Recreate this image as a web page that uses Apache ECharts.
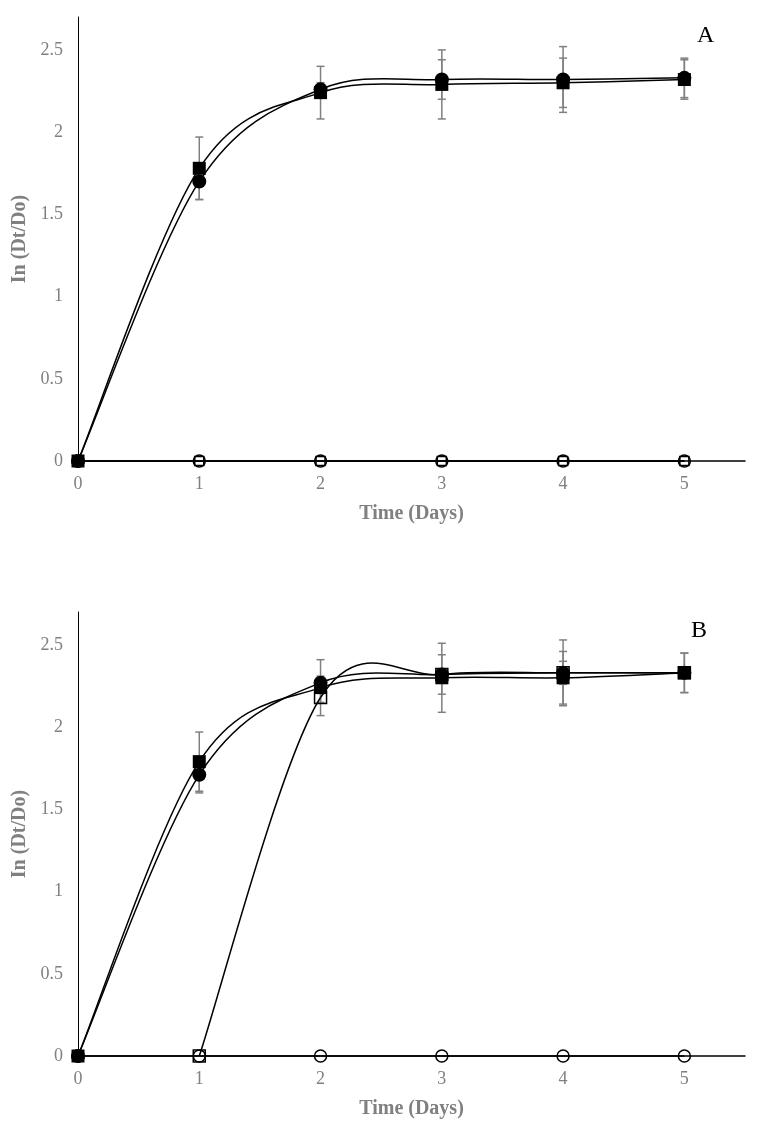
<!DOCTYPE html>
<html>
<head>
<meta charset="utf-8">
<script src="https://cdn.jsdelivr.net/npm/echarts@6/dist/echarts.min.js"></script>
<style>
html,body{margin:0;padding:0;background:#fff;}
#chart{width:765px;height:1124px;}
</style>
</head>
<body>
<div id="chart"></div>
<script>
// ---- data ----
var days = [0, 1, 2, 3, 4, 5];
var xTickLabels = ['0', '1', '2', '3', '4', '5'];
var yTickLabels = ['0', '0.5', '1', '1.5', '2', '2.5'];

// Panel A
var A_filledSquare    = [0, 1.78, 2.24, 2.29, 2.30, 2.32];
var A_filledSquareErr = [0, 0.19, 0.16, 0.21, 0.15, 0.12];
var A_filledCircle    = [0, 1.70, 2.26, 2.32, 2.32, 2.33];
var A_filledCircleErr = [0, 0.11, 0.04, 0.12, 0.20, 0.12];
var A_openSquare      = [0, 0, 0, 0, 0, 0];
var A_openCircle      = [0, 0, 0, 0, 0, 0];

// Panel B
var B_filledSquare    = [0, 1.79, 2.24, 2.30, 2.30, 2.33];
var B_filledSquareErr = [0, 0.18, 0.17, 0.21, 0.16, 0.12];
var B_filledCircle    = [0, 1.71, 2.27, 2.32, 2.33, 2.33];
var B_filledCircleErr = [0, 0.11, 0.04, 0.12, 0.20, 0.12];
var B_openSquare      = [null, 0, 2.18, 2.32, 2.33, 2.33];
var B_openSquareErr   = [0, 0, 0.03, 0.02, 0.07, 0.02];
var B_openCircle      = [0, 0, 0, 0, 0, 0];

var panelLabels = ['A', 'B'];

// ---- build ----
var GRAY = '#808080';
var FONT = '"Liberation Serif","Times New Roman",serif';

function pairs(vals) {
  var out = [];
  days.forEach(function (d, i) { if (vals[i] != null) out.push([d, vals[i]]); });
  return out;
}
function errPairs(vals, errs) {
  var out = [];
  days.forEach(function (d, i) { if (vals[i] != null && errs[i] > 0) out.push([d, vals[i] - errs[i], vals[i] + errs[i]]); });
  return out;
}

function errSeries(gi, vals, errs) {
  return {
    type: 'custom', xAxisIndex: gi, yAxisIndex: gi, z: 1, silent: true,
    data: errPairs(vals, errs),
    renderItem: function (params, api) {
      var x = api.value(0), lo = api.value(1), hi = api.value(2);
      var p1 = api.coord([x, lo]), p2 = api.coord([x, hi]);
      var w = 4;
      var st = { stroke: GRAY, lineWidth: 1.5 };
      return { type: 'group', children: [
        { type: 'line', shape: { x1: p1[0], y1: p1[1], x2: p2[0], y2: p2[1] }, style: st },
        { type: 'line', shape: { x1: p1[0] - w, y1: p1[1], x2: p1[0] + w, y2: p1[1] }, style: st },
        { type: 'line', shape: { x1: p2[0] - w, y1: p2[1], x2: p2[0] + w, y2: p2[1] }, style: st }
      ]};
    }
  };
}

// Excel-like smoothed line (Catmull-Rom bezier segments) through the data points
function splineSeries(gi, vals, z) {
  var pts = pairs(vals);
  return {
    type: 'custom', xAxisIndex: gi, yAxisIndex: gi, z: z, silent: true,
    data: pts,
    renderItem: function (params, api) {
      var i = params.dataIndex;
      if (i >= pts.length - 1) return null;
      var c = pts.map(function (p) { return api.coord(p); });
      var p0 = c[Math.max(i - 1, 0)], p1 = c[i], p2 = c[i + 1], p3 = c[Math.min(i + 2, c.length - 1)];
      return {
        type: 'bezierCurve',
        shape: {
          x1: p1[0], y1: p1[1], x2: p2[0], y2: p2[1],
          cpx1: p1[0] + (p2[0] - p0[0]) / 6, cpy1: p1[1] + (p2[1] - p0[1]) / 6,
          cpx2: p2[0] - (p3[0] - p1[0]) / 6, cpy2: p2[1] - (p3[1] - p1[1]) / 6
        },
        style: { stroke: '#000', lineWidth: 1.5, fill: null }
      };
    }
  };
}

function markerSeries(gi, vals, symbol, size, filled, z) {
  return {
    type: 'scatter', xAxisIndex: gi, yAxisIndex: gi, z: z, silent: true,
    data: pairs(vals), symbol: symbol, symbolSize: size,
    itemStyle: filled ? { color: '#000', borderWidth: 0, opacity: 1 }
                      : { color: 'rgba(255,255,255,0)', borderColor: '#000', borderWidth: 1.5, opacity: 1 },
    emphasis: { disabled: true }
  };
}

var grids = [
  { left: 78, right: 20, top: 17, height: 444 },
  { left: 78, right: 20, top: 612, height: 444 }
];

function xAxis(gi) {
  return {
    type: 'value', gridIndex: gi, min: 0, max: 5.5, interval: 1,
    name: 'Time (Days)', nameLocation: 'middle', nameGap: 43,
    nameTextStyle: { color: GRAY, fontFamily: FONT, fontWeight: 'bold', fontSize: 20 },
    axisLine: { show: true, onZero: false, lineStyle: { color: '#000', width: 1.5 } },
    axisTick: { show: false }, splitLine: { show: false },
    axisLabel: { color: GRAY, fontFamily: FONT, fontSize: 18, margin: 14,
      formatter: function (v) { var i = days.indexOf(v); return i >= 0 ? xTickLabels[i] : ''; } }
  };
}
function yAxis(gi) {
  return {
    type: 'value', gridIndex: gi, min: 0, max: 2.7, interval: 0.5,
    name: 'In (Dt/Do)', nameLocation: 'middle', nameGap: 36,
    nameTextStyle: { color: GRAY, fontFamily: FONT, fontWeight: 'bold', fontSize: 20 },
    axisLine: { show: true, lineStyle: { color: '#000', width: 1 } },
    axisTick: { show: false }, splitLine: { show: false },
    axisLabel: { color: GRAY, fontFamily: FONT, fontSize: 18, margin: 15,
      formatter: function (v) { var i = Math.round(v / 0.5); return (Math.abs(v - i * 0.5) < 1e-6 && i < yTickLabels.length) ? yTickLabels[i] : ''; } }
  };
}

var series = [
  // Panel A
  errSeries(0, A_filledSquare, A_filledSquareErr),
  errSeries(0, A_filledCircle, A_filledCircleErr),
  splineSeries(0, A_openCircle, 2),
  splineSeries(0, A_openSquare, 2),
  splineSeries(0, A_filledCircle, 2),
  splineSeries(0, A_filledSquare, 2),
  markerSeries(0, A_openCircle, 'circle', 12, false, 3),
  markerSeries(0, A_openSquare, 'rect', 9, false, 4),
  markerSeries(0, A_filledCircle, 'circle', 14, true, 5),
  markerSeries(0, A_filledSquare, 'rect', 13, true, 6),
  // Panel B
  errSeries(1, B_filledSquare, B_filledSquareErr),
  errSeries(1, B_filledCircle, B_filledCircleErr),
  errSeries(1, B_openSquare, B_openSquareErr),
  splineSeries(1, B_openCircle, 2),
  splineSeries(1, B_filledCircle, 2),
  splineSeries(1, B_filledSquare, 2),
  splineSeries(1, B_openSquare, 2),
  markerSeries(1, B_openCircle, 'circle', 12, false, 3),
  markerSeries(1, B_filledCircle, 'circle', 14, true, 5),
  markerSeries(1, B_filledSquare, 'rect', 13, true, 6),
  markerSeries(1, B_openSquare, 'rect', 12, false, 7)
];

var option = {
  backgroundColor: '#fff',
  animation: false,
  title: [
    { text: panelLabels[0], left: 692, top: 19, textStyle: { fontFamily: FONT, fontWeight: 'normal', fontSize: 24, color: '#000' } },
    { text: panelLabels[1], left: 686, top: 614, textStyle: { fontFamily: FONT, fontWeight: 'normal', fontSize: 24, color: '#000' } }
  ],
  grid: grids,
  xAxis: [xAxis(0), xAxis(1)],
  yAxis: [yAxis(0), yAxis(1)],
  series: series
};

var chart = echarts.init(document.getElementById('chart'), null, { renderer: 'canvas' });
chart.setOption(option);
</script>
</body>
</html>
